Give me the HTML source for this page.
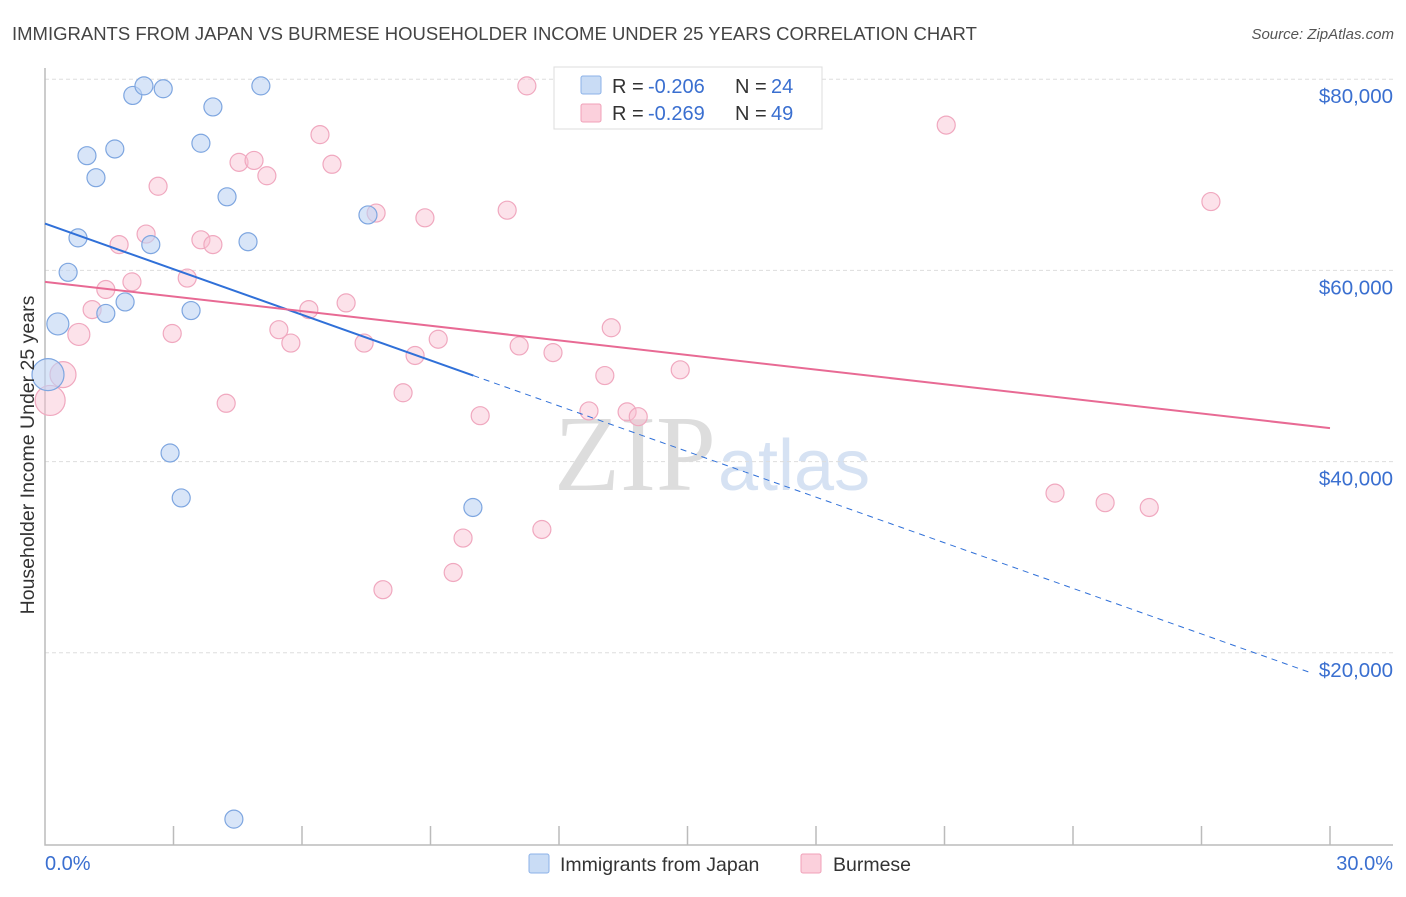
<!DOCTYPE html>
<html><head><meta charset="utf-8"><style>
body{margin:0;background:#fff;font-family:"Liberation Sans",sans-serif;}
</style></head><body>
<svg width="1406" height="892" xmlns="http://www.w3.org/2000/svg" id="chart" style="font-family:'Liberation Sans',sans-serif">
<text x="12" y="40" font-size="18.5" fill="#444">IMMIGRANTS FROM JAPAN VS BURMESE HOUSEHOLDER INCOME UNDER 25 YEARS CORRELATION CHART</text>
<text x="1394" y="39" font-size="15" fill="#555" font-style="italic" text-anchor="end">Source: ZipAtlas.com</text>
<text x="716" y="490" font-size="108" fill="#ddd" text-anchor="end" font-family="Liberation Serif">ZIP</text>
<text x="718" y="490" font-size="72" fill="#d6e2f3">atlas</text>
<g id="grid"></g>
<g id="axes"></g>
<g id="points"></g>
<g id="trends"></g>
<text x="34" y="455" font-size="19.5" fill="#333" text-anchor="middle" transform="rotate(-90 34 455)">Householder Income Under 25 years</text>
<g>
<rect x="554" y="67" width="268" height="62" fill="#fff" stroke="#ddd"/>
<rect x="581" y="76" width="20" height="18" fill="#c9dcf5" stroke="#8cb2e8" rx="2"/>
<rect x="581" y="104" width="20" height="18" fill="#fbd0dc" stroke="#f0a0b8" rx="2"/>
<text y="93" font-size="20" fill="#333"><tspan x="612">R =</tspan><tspan x="648" fill="#3a6fd0">-0.206</tspan><tspan x="735">N =</tspan><tspan x="771" fill="#3a6fd0">24</tspan></text>
<text y="120" font-size="20" fill="#333"><tspan x="612">R =</tspan><tspan x="648" fill="#3a6fd0">-0.269</tspan><tspan x="735">N =</tspan><tspan x="771" fill="#3a6fd0">49</tspan></text>
</g>
<g>
<rect x="529" y="854" width="20" height="19" fill="#c9dcf5" stroke="#8cb2e8" rx="2"/>
<text x="560" y="871" font-size="19.5" fill="#333">Immigrants from Japan</text>
<rect x="801" y="854" width="20" height="19" fill="#fbd0dc" stroke="#f0a0b8" rx="2"/>
<text x="833" y="871" font-size="19.5" fill="#333">Burmese</text>
</g>
</svg>
<script>
const yTicks=[20000,40000,60000,80000];
const yTickLabels=["$20,000","$40,000","$60,000","$80,000"];
const xTickLabels=["0.0%","30.0%"];
const japanX=[2.05,2.31,2.76,5.04,3.92,0.98,1.63,3.64,1.19,4.25,0.77,2.47,4.74,7.54,0.54,1.87,1.42,3.41,0.30,0.07,2.92,3.18,9.99,4.41];
const japanY=[78.3,79.3,79.0,79.3,77.1,72.0,72.7,73.3,69.7,67.7,63.4,62.7,63.0,65.8,59.8,56.7,55.5,55.8,54.4,49.1,40.9,36.2,35.2,2.6];
const japanR=[9,9,9,9,9,9,9,9,9,9,9,9,9,9,9,9,9,9,11,16,9,9,9,9];
const burX=[11.25,21.04,6.42,4.53,4.88,6.70,5.18,2.64,7.73,8.87,10.79,27.22,2.36,1.73,3.64,3.92,3.32,2.03,1.42,1.10,6.16,7.03,0.79,2.97,5.46,5.74,7.45,13.22,9.18,11.07,11.86,8.64,14.83,13.07,8.36,4.23,10.16,12.70,13.59,13.85,0.42,0.12,23.58,24.75,25.78,11.60,9.76,9.53,7.89];
const burY=[79.3,75.2,74.2,71.3,71.5,71.1,69.9,68.8,66.0,65.5,66.3,67.2,63.8,62.7,63.2,62.7,59.2,58.8,58.0,55.9,55.9,56.6,53.3,53.4,53.8,52.4,52.4,54.0,52.8,52.1,51.4,51.1,49.6,49.0,47.2,46.1,44.8,45.3,45.2,44.7,49.1,46.4,36.7,35.7,35.2,32.9,32.0,28.4,26.6];
const burR=[9,9,9,9,9,9,9,9,9,9,9,9,9,9,9,9,9,9,9,9,9,9,11,9,9,9,9,9,9,9,9,9,9,9,9,9,9,9,9,9,13,15,9,9,9,9,9,9,9];
const japanTrend=[64.9,17.2]; const japanSolidEnd=10;
const burTrend=[58.8,43.5];
const NS="http://www.w3.org/2000/svg";
const sx=v=>45+v/30*1285;
const sy=v=>844-v/20000*191.2;
function mk(t,a,p){const e=document.createElementNS(NS,t);for(const k in a)e.setAttribute(k,a[k]);p.appendChild(e);return e;}
const grid=document.getElementById('grid'),axes=document.getElementById('axes'),pts=document.getElementById('points'),tr=document.getElementById('trends');
yTicks.forEach((t,i)=>{
 const l=mk('line',{x1:45,x2:1393,y1:sy(t),y2:sy(t),stroke:'#ddd','stroke-dasharray':'4,3'},grid);
 
 
 const tx=mk('text',{x:1393,y:sy(t)+24,'font-size':20.5,fill:'#3a6fd0','text-anchor':'end'},axes);
 tx.textContent=yTickLabels[i];
 
 
});
const ax=mk('path',{d:'M45,68 V845 H1393',fill:'none',stroke:'#bbb','stroke-width':1.5},axes);


for(let i=1;i<=10;i++){const t=mk('line',{x1:sx(i*3),x2:sx(i*3),y1:826,y2:845,stroke:'#bbb','stroke-width':1.5},axes);
 
 }
[[0,'start',45],[30,'end',1393]].forEach((d,i)=>{const t=mk('text',{x:d[2],y:870,'font-size':20,fill:'#3a6fd0','text-anchor':d[1]},axes);t.textContent=xTickLabels[i];
 
 });
burX.forEach((x,i)=>{const c=mk('circle',{cx:sx(x),cy:sy(burY[i]*1000),r:burR[i],fill:'rgba(248,190,208,0.45)',stroke:'#f0a8bf','stroke-width':1.2},pts);
 
 });
japanX.forEach((x,i)=>{const c=mk('circle',{cx:sx(x),cy:sy(japanY[i]*1000),r:japanR[i],fill:'rgba(190,212,244,0.6)',stroke:'#7ea6e0','stroke-width':1.2},pts);
 
 });
const jy=x=>japanTrend[0]+(japanTrend[1]-japanTrend[0])*x/30;
let l1=mk('line',{x1:sx(0),y1:sy(jy(0)*1000),x2:sx(japanSolidEnd),y2:sy(jy(japanSolidEnd)*1000),stroke:'#3070d8','stroke-width':2},tr);


let l2=mk('line',{x1:sx(japanSolidEnd),y1:sy(jy(japanSolidEnd)*1000),x2:sx(29.6),y2:sy(jy(29.6)*1000),stroke:'#3070d8','stroke-width':1,'stroke-dasharray':'6,5'},tr);


let l3=mk('line',{x1:sx(0),y1:sy(burTrend[0]*1000),x2:sx(30),y2:sy(burTrend[1]*1000),stroke:'#e86a94','stroke-width':2},tr);


</script>
</body></html>
